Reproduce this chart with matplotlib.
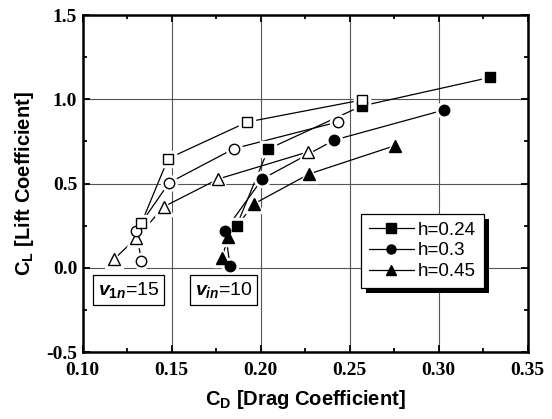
import matplotlib
matplotlib.use("Agg")
import matplotlib.pyplot as plt
import matplotlib.ticker as mticker
from matplotlib.patches import Rectangle

# v_1n = 15 (open symbols)
open_sq_x = [0.133, 0.148, 0.1925, 0.257]
open_sq_y = [0.265, 0.648, 0.865, 0.996]
open_ci_x = [0.133, 0.130, 0.1485, 0.185, 0.2433]
open_ci_y = [0.04, 0.221, 0.504, 0.707, 0.865]
open_tr_x = [0.1178, 0.130, 0.1457, 0.1762, 0.2264]
open_tr_y = [0.053, 0.175, 0.363, 0.527, 0.687]

# v_in = 10 (filled symbols)
h024_x = [0.1865, 0.2043, 0.2567, 0.329]
h024_y = [0.250, 0.705, 0.960, 1.130]
h03_x = [0.1828, 0.1800, 0.2009, 0.2414, 0.3032]
h03_y = [0.010, 0.221, 0.527, 0.758, 0.937]
h045_x = [0.1780, 0.1818, 0.1962, 0.2273, 0.2755]
h045_y = [0.055, 0.181, 0.379, 0.557, 0.725]

labels = ["h=0.24", "h=0.3", "h=0.45"]

plt.rcParams["mathtext.fontset"] = "custom"
plt.rcParams["mathtext.rm"] = "Liberation Sans:bold"
plt.rcParams["mathtext.bf"] = "Liberation Sans:bold"
plt.rcParams["mathtext.it"] = "Liberation Sans:bold:italic"

fig = plt.figure(figsize=(5.52, 4.19), dpi=100)
ax = fig.add_axes([0.1498, 0.1599, 0.8062, 0.8043])


def draw_series(x, y, marker, ms, filled):
    ax.plot(x, y, "-", color="black", lw=0.9, zorder=2)
    # white halo gives the small gap between line and symbol
    ax.plot(x, y, ls="none", marker=marker, ms=ms + 4, mfc="white", mec="white", zorder=3)
    fc = "black" if filled else "white"
    ax.plot(x, y, ls="none", marker=marker, ms=ms, mfc=fc, mec="black", mew=1.0, zorder=4)


draw_series(h03_x, h03_y, "o", 7.5, True)
draw_series(h045_x, h045_y, "^", 8.5, True)
draw_series(h024_x, h024_y, "s", 7, True)
draw_series(open_tr_x, open_tr_y, "^", 8.5, False)
draw_series(open_ci_x, open_ci_y, "o", 7.5, False)
draw_series(open_sq_x, open_sq_y, "s", 7, False)

for lab, m in zip(labels, ["s", "o", "^"]):
    ax.plot([], [], "-", color="black", lw=0.9, marker=m, ms=6.5,
            mfc="black", mec="black", label=lab)

ax.set_xlim(0.10, 0.35)
ax.set_ylim(-0.5, 1.5)
ax.xaxis.set_major_locator(mticker.MultipleLocator(0.05))
ax.xaxis.set_minor_locator(mticker.MultipleLocator(0.025))
ax.yaxis.set_major_locator(mticker.MultipleLocator(0.5))
ax.yaxis.set_minor_locator(mticker.MultipleLocator(0.25))
ax.xaxis.set_major_formatter(mticker.FormatStrFormatter("%.2f"))
ax.yaxis.set_major_formatter(mticker.FormatStrFormatter("%.1f"))
ax.grid(True, which="major", color="#555555", lw=0.8, zorder=1)
ax.set_axisbelow(True)

ax.tick_params(which="both", direction="in", top=True, right=True, width=1.3,
               labelsize=14, labelfontfamily="Liberation Serif")
ax.tick_params(which="major", length=5)
ax.tick_params(which="minor", length=3)
ax.tick_params(axis="x", which="major", pad=7)
ax.tick_params(axis="y", which="major", pad=4)
fig.canvas.draw()
for t in ax.get_xticklabels() + ax.get_yticklabels():
    t.set_fontweight("bold")
for s in ax.spines.values():
    s.set_linewidth(1.8)

ax.set_xlabel(r"C$_\mathregular{D}$ [Drag Coefficient]", fontfamily="Liberation Sans",
              fontweight="bold", fontsize=14.5, labelpad=7)
ax.set_ylabel(r"C$_\mathregular{L}$ [Lift Coefficient]", fontfamily="Liberation Sans",
              fontweight="bold", fontsize=14.5, labelpad=7)

box = dict(boxstyle="square,pad=0.25", fc="white", ec="black", lw=0.9)
ax.text(0.1257, -0.133, r"$\mathit{v}_{\mathit{1n}}$=15", ha="center", va="center",
        fontfamily="Liberation Sans", fontsize=14, bbox=box, zorder=6)
ax.text(0.1791, -0.133, r"$\mathit{v}_{\mathit{in}}$=10", ha="center", va="center",
        fontfamily="Liberation Sans", fontsize=14, bbox=box, zorder=6)

leg = ax.legend(loc="upper left", bbox_to_anchor=(0.6254, 0.4095), borderaxespad=0,
                fancybox=False, framealpha=1, edgecolor="black",
                prop={"family": "Liberation Sans", "size": 13.5},
                handlelength=2.4, handletextpad=0.25, labelspacing=0.2,
                borderpad=0.4)
leg.get_frame().set_linewidth(0.9)
leg.set_zorder(7)

fig.canvas.draw()
bb = leg.get_window_extent().transformed(ax.transAxes.inverted())
dx = 5 / (ax.bbox.width)
dy = 5 / (ax.bbox.height)
ax.add_patch(Rectangle((bb.x0 + dx, bb.y0 - dy), bb.width, bb.height,
                       transform=ax.transAxes, fc="black", ec="none",
                       zorder=6.5, clip_on=False))

fig.savefig("out.png", dpi=100)
